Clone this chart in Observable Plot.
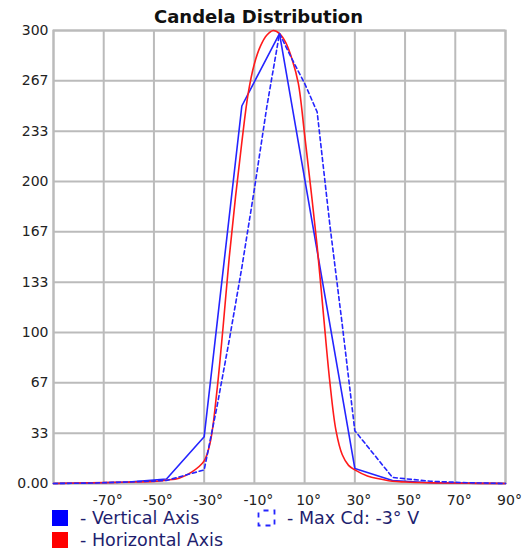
<!DOCTYPE html>
<html>
<head>
<meta charset="utf-8">
<script src="https://cdn.jsdelivr.net/npm/d3@7"></script>
<script src="https://cdn.jsdelivr.net/npm/@observablehq/plot@0.6"></script>
<style>
  html, body { margin: 0; padding: 0; background: #ffffff; }
  #wrap { position: relative; width: 529px; height: 553px; overflow: hidden; font-family: "DejaVu Sans", sans-serif; }
  #title { width: 517px; height: 24px; padding-top: 5px; box-sizing: border-box; line-height: 24px; text-align: center; font-weight: bold; font-size: 18px; color: #111; white-space: nowrap; }
  #chart svg { display: block; }
  #legend { position: relative; height: 46px; }
  #legend .sw { position: absolute; width: 16px; height: 16px; }
  #legend .lt { position: absolute; font-size: 17.5px; line-height: 22px; color: #1e1e6e; white-space: nowrap; }
</style>
</head>
<body>
<div id="wrap">
  <div id="title">Candela Distribution</div>
  <div id="chart"></div>
  <div id="legend"></div>
</div>
<script>
// ---- data ----
const titleText = "Candela Distribution";

// Vertical axis (solid blue)
const vertAngles = [-90, -75, -60, -45, -30, -15, 0, 15, 30, 45, 60, 75, 90];
const vertValues = [0, 0.3, 1, 3, 31, 250, 298, 154, 10, 2, 0.5, 0.2, 0];

// Horizontal axis (solid red, smooth)
const horizAngles = [-90, -80, -70, -60, -50, -45, -40, -35, -30, -27.5, -25, -22.5, -20, -17.5, -15, -12.5, -10, -7.5, -5, -2.5, 0, 2.5, 5, 7.5, 10, 12.5, 15, 17.5, 20, 22.5, 25, 27.5, 30, 35, 40, 45, 50, 60, 70, 80, 90];
const horizValues = [0, 0.3, 0.6, 0.9, 1.4, 2.2, 3.5, 7.5, 15, 28, 60, 103, 150, 190, 226, 258, 278, 290, 297, 300, 298, 292, 281, 265, 231, 195, 157, 112, 68, 35, 19, 12, 9, 5, 3, 1.5, 1, 0.5, 0.3, 0.1, 0];

// Max Cd: -3° V (dashed blue)
const maxAngles = [-90, -75, -60, -45, -30, -25, -20, -15, -10, -5, 0, 5, 10, 15, 20, 25, 30, 45, 60, 75, 90];
const maxValues = [0, 0.3, 1, 2, 9, 50, 95, 143, 195, 250, 298, 281, 265, 246, 172, 105, 35, 4, 1.5, 0.5, 0];

// axes
const xGridTicks = [-90, -70, -50, -30, -10, 10, 30, 50, 70, 90];
const xLabelTicks = [-70, -50, -30, -10, 10, 30, 50, 70, 90];
const yTicks = [0, 33.333, 66.667, 100, 133.333, 166.667, 200, 233.333, 266.667, 300];
const yLabels = ["0.00", "33", "67", "100", "133", "167", "200", "233", "267", "300"];

const legendLabels = ["- Vertical Axis", "- Horizontal Axis", "- Max Cd: -3° V"];
const colors = {vert: "#2424ff", horiz: "#ff1a1a", max: "#2424ff"};

// ---- build ----
const vertData = vertAngles.map((a, i) => ({a, v: vertValues[i]}));
const horizData = horizAngles.map((a, i) => ({a, v: horizValues[i]}));
const maxData = maxAngles.map((a, i) => ({a, v: maxValues[i]}));
const gridColor = "#bbbbbb";

const chart = Plot.plot({
  width: 529,
  height: 483,
  marginLeft: 53,
  marginRight: 24,
  marginTop: 6,
  marginBottom: 24,
  style: {fontFamily: "DejaVu Sans, sans-serif", fontSize: "14px", color: "#222", background: "#ffffff", overflow: "visible"},
  x: {domain: [-90, 90]},
  y: {domain: [0, 300]},
  marks: [
    Plot.gridX(xGridTicks, {stroke: gridColor, strokeOpacity: 1, strokeWidth: 2}),
    Plot.gridY(yTicks, {stroke: gridColor, strokeOpacity: 1, strokeWidth: 2}),
    Plot.frame({stroke: gridColor, strokeWidth: 2}),
    Plot.axisY(yTicks, {tickSize: 0, tickPadding: 5, fontSize: 14, label: null,
      tickFormat: d => yLabels[yTicks.indexOf(d)]}),
    Plot.axisX(xLabelTicks, {tickSize: 0, tickPadding: 12, fontSize: 14, label: null, dx: 4,
      tickFormat: d => `${d}°`}),
    Plot.line(vertData, {x: "a", y: "v", stroke: colors.vert, strokeWidth: 1.6}),
    Plot.line(horizData, {x: "a", y: "v", stroke: colors.horiz, strokeWidth: 1.6, curve: "catmull-rom"}),
    Plot.line(maxData, {x: "a", y: "v", stroke: colors.max, strokeWidth: 1.6, strokeDasharray: "4,3"})
  ]
});
document.getElementById("chart").appendChild(chart);
document.getElementById("title").textContent = titleText;

// ---- legend (container starts right below the SVG) ----
const lg = document.getElementById("legend");
function sw(left, top, color) {
  const d = document.createElement("div");
  d.className = "sw";
  d.style.left = left + "px"; d.style.top = top + "px"; d.style.background = color;
  lg.appendChild(d);
}
function txt(left, top, s) {
  const d = document.createElement("div");
  d.className = "lt";
  d.style.left = left + "px"; d.style.top = top + "px";
  d.textContent = s;
  lg.appendChild(d);
}
sw(52, 3, "#0000ff");
txt(80, 0, legendLabels[0]);
sw(52, 25, "#ff0000");
txt(80, 22, legendLabels[1]);
const ns = "http://www.w3.org/2000/svg";
const icon = document.createElementNS(ns, "svg");
icon.setAttribute("width", "19"); icon.setAttribute("height", "18");
icon.style.position = "absolute"; icon.style.left = "257px"; icon.style.top = "2px";
const r = document.createElementNS(ns, "rect");
r.setAttribute("x", "1.5"); r.setAttribute("y", "1.5"); r.setAttribute("width", "16"); r.setAttribute("height", "15");
r.setAttribute("fill", "none"); r.setAttribute("stroke", colors.max); r.setAttribute("stroke-width", "1.8");
r.setAttribute("stroke-dasharray", "5,5"); r.setAttribute("stroke-dashoffset", "-5");
icon.appendChild(r);
lg.appendChild(icon);
txt(287, 0, legendLabels[2]);
</script>
</body>
</html>
